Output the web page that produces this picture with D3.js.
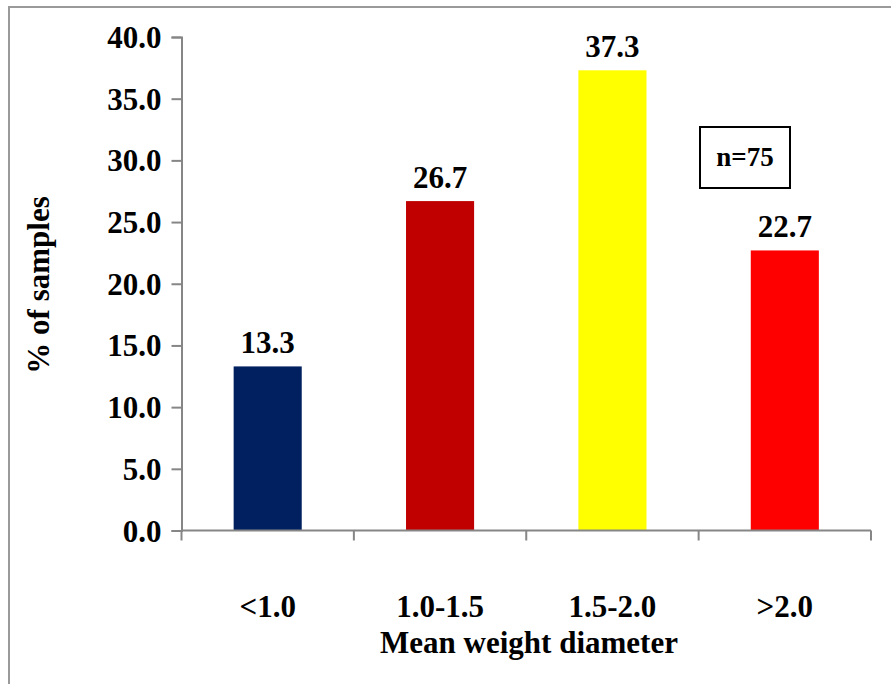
<!DOCTYPE html>
<html>
<head>
<meta charset="utf-8">
<script src="https://cdn.jsdelivr.net/npm/d3@7"></script>
<style>
  html, body { margin: 0; padding: 0; background: #fff; }
  svg { display: block; }
  text { font-family: "Liberation Serif", "Times New Roman", serif; font-weight: bold; fill: #000; }
</style>
</head>
<body>
<svg id="chart" width="891" height="684"></svg>
<script>
// Distribution of samples by mean weight diameter class
const categories = ["<1.0", "1.0-1.5", "1.5-2.0", ">2.0"];
const values = [13.3, 26.7, 37.3, 22.7];
const barColors = ["#002060", "#C00000", "#FFFF00", "#FF0000"];
const yTicks = [0, 5, 10, 15, 20, 25, 30, 35, 40];
const sampleNote = "n=75";
const yTitle = "% of samples";
const xTitle = "Mean weight diameter";

const svg = d3.select("#chart");
const axisColor = "#868686";
const fontSize = 31;

// Outer frame (top and left edges visible)
svg.append("path")
  .attr("d", "M9,684 V7 H891")
  .attr("fill", "none")
  .attr("stroke", "#9a9a9a")
  .attr("stroke-width", 2);

const x = d3.scaleBand()
  .domain(categories)
  .range([181.5, 871])
  .paddingInner(0.605)
  .paddingOuter(0.3025);

const y = d3.scaleLinear()
  .domain([0, 40])
  .range([530.5, 37]);

// Bars
svg.append("g").selectAll("rect")
  .data(values)
  .join("rect")
  .attr("x", (d, i) => x(categories[i]))
  .attr("y", d => y(d))
  .attr("width", x.bandwidth())
  .attr("height", d => y(0) - y(d))
  .attr("fill", (d, i) => barColors[i]);

// Value labels above bars
svg.append("g").selectAll("text")
  .data(values)
  .join("text")
  .attr("x", (d, i) => x(categories[i]) + x.bandwidth() / 2)
  .attr("y", d => y(d) - 13)
  .attr("text-anchor", "middle")
  .attr("font-size", fontSize)
  .text(d => d.toFixed(1));

// Y axis
const yAxis = svg.append("g").attr("transform", "translate(181.5,0)");
yAxis.call(d3.axisLeft(y).tickValues(yTicks).tickSize(10).tickPadding(10).tickFormat(d3.format(".1f")));
yAxis.select(".domain").attr("stroke", axisColor).attr("stroke-width", 2);
yAxis.selectAll(".tick line").attr("stroke", axisColor).attr("stroke-width", 2);
yAxis.selectAll(".tick text")
  .attr("font-size", fontSize)
  .attr("dy", "0.34em")
  .attr("fill", "#000");

// X axis: baseline with boundary ticks between categories
const xAxis = svg.append("g");
xAxis.append("line")
  .attr("x1", x.range()[0]).attr("x2", x.range()[1])
  .attr("y1", y(0)).attr("y2", y(0))
  .attr("stroke", axisColor).attr("stroke-width", 2);
const bounds = categories.map(c => x(c) - x.step() * x.paddingOuter()).concat([x.range()[1]]);
xAxis.selectAll("line.b")
  .data(bounds)
  .join("line")
  .attr("class", "b")
  .attr("x1", d => d).attr("x2", d => d)
  .attr("y1", y(0)).attr("y2", y(0) + 10)
  .attr("stroke", axisColor).attr("stroke-width", 2);
xAxis.selectAll("text")
  .data(categories)
  .join("text")
  .attr("x", d => x(d) + x.bandwidth() / 2)
  .attr("y", 617)
  .attr("text-anchor", "middle")
  .attr("font-size", fontSize)
  .text(d => d);

// Axis titles
svg.append("text")
  .attr("transform", "translate(49,285) rotate(-90)")
  .attr("text-anchor", "middle")
  .attr("font-size", fontSize)
  .text(yTitle);

svg.append("text")
  .attr("x", 529)
  .attr("y", 653)
  .attr("text-anchor", "middle")
  .attr("font-size", fontSize)
  .text(xTitle);

// Sample size note
svg.append("rect")
  .attr("x", 700).attr("y", 127)
  .attr("width", 90).attr("height", 61)
  .attr("fill", "#fff")
  .attr("stroke", "#000")
  .attr("stroke-width", 2);
svg.append("text")
  .attr("x", 745).attr("y", 166)
  .attr("text-anchor", "middle")
  .attr("font-size", 27)
  .text(sampleNote);
</script>
</body>
</html>
